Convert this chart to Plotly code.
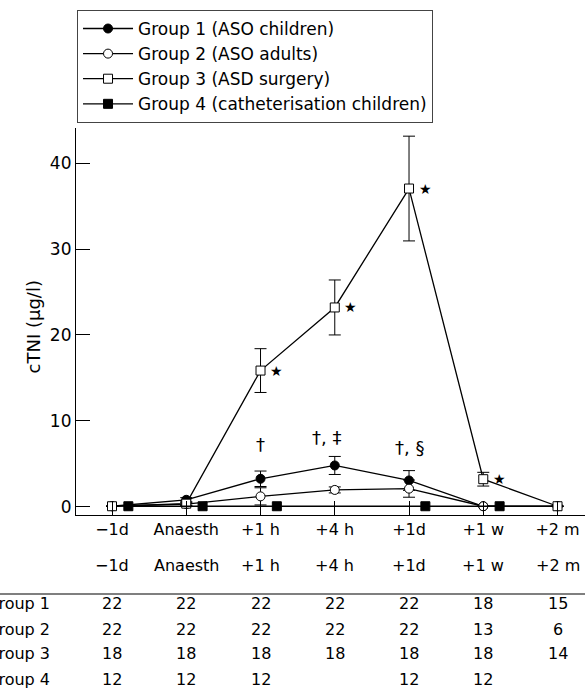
import plotly.graph_objects as go

categories = ["\u22121d", "Anaesth", "+1 h", "+4 h", "+1d", "+1 w", "+2 m"]

g1_mean = [0.05, 0.8, 3.25, 4.8, 3.05, 0.05, 0.05]
g1_err = [0, 0.25, 0.9, 1.05, 1.15, 0, 0]
g2_mean = [0.05, 0.3, 1.2, 1.95, 2.1, 0.05, 0.05]
g2_err = [0, 0.15, 1.0, 0.35, 1.0, 0, 0]
g3_mean = [0.05, 0.35, 15.85, 23.2, 37.05, 3.2, 0.05]
g3_err = [0, 0.2, 2.55, 3.2, 6.1, 0.8, 0]
g4_mean = [0.05, 0.05, 0.05, None, 0.05, 0.05, None]

group_names = ["Group 1 (ASO children)", "Group 2 (ASO adults)",
               "Group 3 (ASD surgery)", "Group 4 (catheterisation children)"]
row_labels = ["Group 1", "Group 2", "Group 3", "Group 4"]
n1 = [22, 22, 22, 22, 22, 18, 15]
n2 = [22, 22, 22, 22, 22, 13, 6]
n3 = [18, 18, 18, 18, 18, 18, 14]
n4 = [12, 12, 12, None, 12, 12, None]

sig_labels = ["", "", "\u2020", "\u2020, \u2021", "\u2020, \u00a7", "", ""]
sig_heights = [None, None, 7.2, 8.1, 6.85, None, None]
star_flags = [False, False, True, True, True, True, False]

FONT = "DejaVu Sans"
xpos = list(range(len(categories)))
g4_offset = 0.22
xpos4 = [x + g4_offset for x in xpos]

fig = go.Figure()

def err(a):
    return dict(type="data", array=a, visible=True, color="black", thickness=1, width=6)

fig.add_trace(go.Scatter(x=xpos, y=g1_mean, name=group_names[0], mode="lines+markers",
                         line=dict(color="black", width=1.3),
                         marker=dict(symbol="circle", size=9, color="black", line=dict(color="black", width=1)),
                         error_y=err(g1_err)))
fig.add_trace(go.Scatter(x=xpos, y=g2_mean, name=group_names[1], mode="lines+markers",
                         line=dict(color="black", width=1.3),
                         marker=dict(symbol="circle", size=9, color="white", line=dict(color="black", width=1)),
                         error_y=err(g2_err)))
fig.add_trace(go.Scatter(x=xpos, y=g3_mean, name=group_names[2], mode="lines+markers",
                         line=dict(color="black", width=1.3),
                         marker=dict(symbol="square", size=9, color="white", line=dict(color="black", width=1)),
                         error_y=err(g3_err)))
fig.add_trace(go.Scatter(x=xpos4, y=g4_mean, name=group_names[3], mode="lines+markers",
                         connectgaps=True,
                         line=dict(color="black", width=1.3),
                         marker=dict(symbol="square", size=9, color="black", line=dict(color="black", width=1))))

annotations = []
for i, (lab, h) in enumerate(zip(sig_labels, sig_heights)):
    if lab:
        annotations.append(dict(x=xpos[i], y=h, xref="x", yref="y", text=lab, showarrow=False,
                                xshift=-8 if "\u2021" in lab else 0,
                                font=dict(family=FONT, size=18, color="black")))
for i, f in enumerate(star_flags):
    if f:
        annotations.append(dict(x=xpos[i], y=g3_mean[i], xref="x", yref="y", text="\u2605",
                                showarrow=False, xshift=16,
                                font=dict(family=FONT, size=14, color="black")))

header_y = -0.160
row_ys = [-0.258, -0.326, -0.388, -0.455]
for i, c in enumerate(categories):
    annotations.append(dict(x=xpos[i], y=header_y, xref="x", yref="paper", text=c, showarrow=False,
                            font=dict(family=FONT, size=16, color="black")))
for r, (lab, vals) in enumerate(zip(row_labels, [n1, n2, n3, n4])):
    annotations.append(dict(x=-0.047, y=row_ys[r], xref="paper", yref="paper", text=lab,
                            showarrow=False, xanchor="right",
                            font=dict(family=FONT, size=16, color="black")))
    for i, v in enumerate(vals):
        if v is not None:
            annotations.append(dict(x=xpos[i], y=row_ys[r], xref="x", yref="paper", text=str(v),
                                    showarrow=False, font=dict(family=FONT, size=16, color="black")))

annotations.append(dict(x=-0.108, y=0.486, xref="paper", yref="paper", text="cTNI (\u00b5g/l)",
                        showarrow=False, textangle=-90,
                        font=dict(family=FONT, size=18, color="black")))

fig.update_layout(
    width=585, height=700,
    margin=dict(l=76, r=0, t=128, b=185, autoexpand=False),
    paper_bgcolor="white", plot_bgcolor="white",
    font=dict(family=FONT, size=16, color="black"),
    showlegend=True,
    legend=dict(x=0.002, y=1.305, xanchor="left", yanchor="top",
                bordercolor="#444", borderwidth=1, bgcolor="white",
                font=dict(family=FONT, size=17, color="black"),
                itemwidth=50, tracegroupgap=0),
    annotations=annotations,
    shapes=[dict(type="line", xref="paper", yref="paper", x0=-0.16, x1=1.0,
                 y0=-0.204, y1=-0.204, line=dict(color="#555", width=1.5))],
)
fig.update_xaxes(range=[-0.485, 6.37], tickvals=xpos, ticktext=categories,
                 ticks="inside", ticklen=14, tickcolor="black", showline=True, linecolor="black",
                 linewidth=1.2, showgrid=False, zeroline=False,
                 tickfont=dict(family=FONT, size=16, color="black"))
fig.update_yaxes(range=[-0.97, 44.1], tickvals=[0, 10, 20, 30, 40],
                 ticks="inside", ticklen=14, tickcolor="black", showline=True, linecolor="black",
                 linewidth=1.2, showgrid=False, zeroline=False,
                 tickfont=dict(family=FONT, size=17, color="black"))

fig.write_html("out.html")
